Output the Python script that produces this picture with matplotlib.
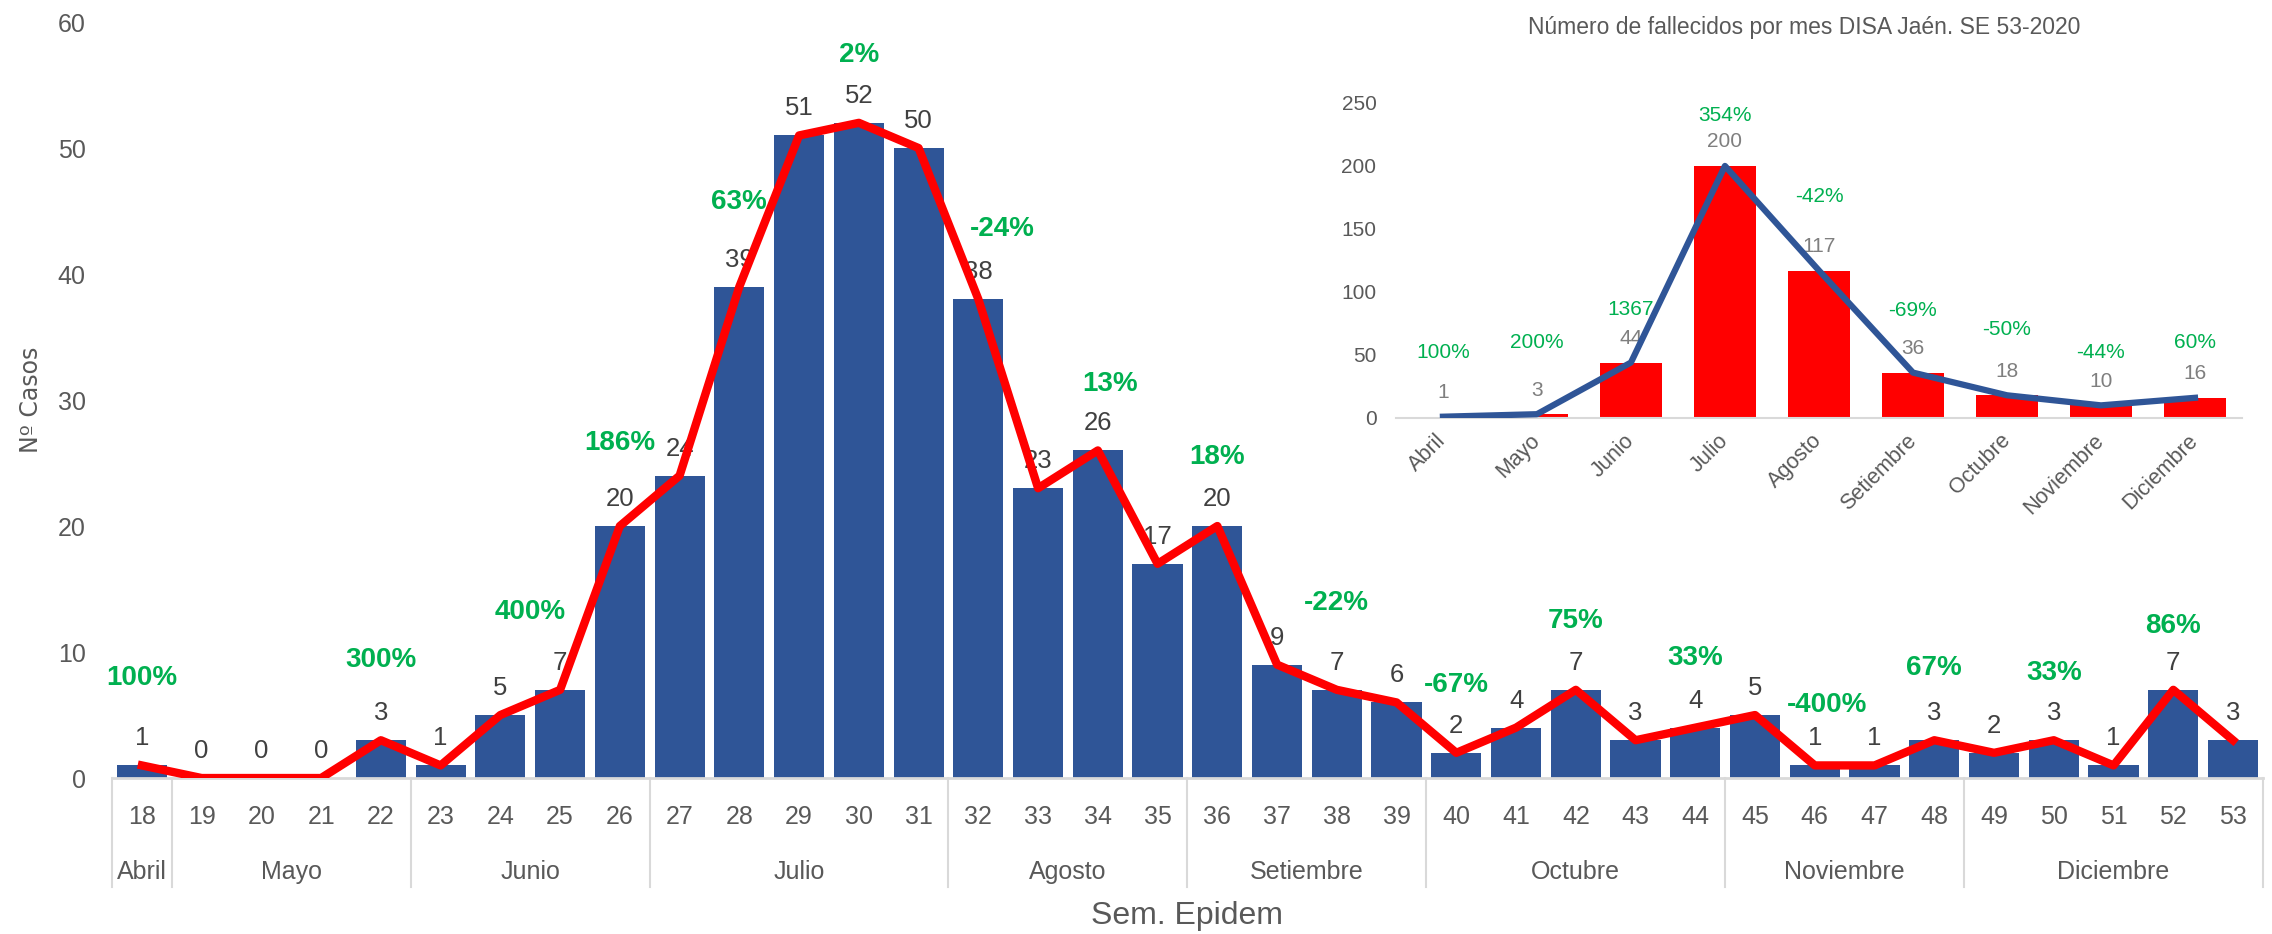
import matplotlib
matplotlib.use("Agg")
import matplotlib.pyplot as plt

plt.rcParams['font.family'] = ['Liberation Sans', 'DejaVu Sans']

# semanas epidemiologicas y casos
semanas = [18, 19, 20, 21, 22, 23, 24, 25, 26, 27, 28, 29, 30, 31, 32, 33, 34, 35,
           36, 37, 38, 39, 40, 41, 42, 43, 44, 45, 46, 47, 48, 49, 50, 51, 52, 53]
casos = [1, 0, 0, 0, 3, 1, 5, 7, 20, 24, 39, 51, 52, 50, 38, 23, 26, 17,
         20, 9, 7, 6, 2, 4, 7, 3, 4, 5, 1, 1, 3, 2, 3, 1, 7, 3]

meses = ['Abril', 'Mayo', 'Junio', 'Julio', 'Agosto', 'Setiembre', 'Octubre',
         'Noviembre', 'Diciembre']
semanas_por_mes = [1, 4, 4, 5, 4, 4, 5, 4, 5]

# variaciones (texto verde): posicion en indice de semana, altura, texto
var_pos = [0, 4, 6.5, 8, 10, 12, 14.4, 16.2, 18, 20, 22, 24, 26, 28.2, 30, 32, 34]
var_y = [7.9, 9.4, 13.2, 26.6, 45.7, 57.4, 43.6, 31.3, 25.5, 13.9, 7.4, 12.5, 9.5,
         5.8, 8.7, 8.3, 12.1]
var_txt = ['100%', '300%', '400%', '186%', '63%', '2%', '-24%', '13%', '18%', '-22%',
           '-67%', '75%', '33%', '-400%', '67%', '33%', '86%']

# fallecidos por mes (grafico pequeño)
fallecidos = [1, 3, 44, 200, 117, 36, 18, 10, 16]
fal_var_y = [52, 60, 86, 240, 176, 85, 70, 52, 60]
fal_var_txt = ['100%', '200%', '1367', '354%', '-42%', '-69%', '-50%', '-44%', '60%']

AZUL = '#2F5597'
ROJO = '#FF0000'
VERDE = '#00B050'
GRIS = '#595959'

fig = plt.figure(figsize=(22.72, 9.34), dpi=100)
ax = fig.add_axes([0.0493, 0.167, 0.9467, 0.8094])

x = list(range(len(semanas)))
ax.bar(x, casos, width=0.84, color=AZUL, zorder=2)
ax.plot(x, casos, color=ROJO, lw=6, zorder=4)
for i, v in zip(x, casos):
    ax.annotate(str(v), (i, v), xytext=(0, 27), textcoords='offset pixels',
                ha='center', va='center', fontsize=18.5, color='#404040', zorder=3)
for p, yv, t in zip(var_pos, var_y, var_txt):
    ax.text(p, yv, t, ha='center', va='center', fontsize=20, color=VERDE,
            fontweight='bold', zorder=5)

ax.set_xlim(-0.5, len(semanas) - 0.5)
ax.set_ylim(0, 60)
ax.set_yticks(range(0, 61, 10))
ax.tick_params(axis='y', length=0, pad=19, labelsize=18, labelcolor=GRIS)
ax.set_xticks([])
for s in ['top', 'right', 'left']:
    ax.spines[s].set_visible(False)
ax.spines['bottom'].set_color('#D9D9D9')
ax.spines['bottom'].set_linewidth(2)

# etiquetas de semana y de mes
for i, s in zip(x, semanas):
    ax.annotate(str(s), (i, 0), xycoords=('data', 'axes fraction'), xytext=(0, -39),
                textcoords='offset pixels', ha='center', va='center', fontsize=18,
                color=GRIS)
ini = -0.5
bordes = [ini]
for m, n in zip(meses, semanas_por_mes):
    ax.annotate(m, (ini + n / 2, 0), xycoords=('data', 'axes fraction'),
                xytext=(0, -94), textcoords='offset pixels', ha='center', va='center',
                fontsize=18, color=GRIS)
    ini += n
    bordes.append(ini)
for b in bordes:
    ax.plot([b, b], [0, -0.144], transform=ax.get_xaxis_transform(), color='#D9D9D9',
            lw=1.5, clip_on=False)

fig.text(0.5226, 0.019, 'Sem. Epidem', ha='center', va='center', fontsize=23, color=GRIS)
fig.text(0.0135, 0.572, 'Nº Casos', rotation=90, ha='center', va='center', fontsize=17,
         color=GRIS, family='DejaVu Sans')

# grafico pequeño
ax2 = fig.add_axes([0.6144, 0.5525, 0.3724, 0.3373])
ax2.set_facecolor('none')
xm = list(range(len(meses)))
ax2.bar(xm, fallecidos, width=0.66, color=ROJO, zorder=2)
ax2.plot(xm, fallecidos, color=AZUL, lw=4.5, zorder=4)
for i, v in zip(xm, fallecidos):
    ax2.annotate(str(v), (i, v), xytext=(0, 24), textcoords='offset pixels',
                 ha='center', va='center', fontsize=15, color='#7F7F7F', zorder=3)
for i, yv, t in zip(xm, fal_var_y, fal_var_txt):
    ax2.text(i, yv, t, ha='center', va='center', fontsize=15, color=VERDE, zorder=3)
ax2.set_xlim(-0.5, len(meses) - 0.5)
ax2.set_ylim(0, 250)
ax2.set_yticks(range(0, 251, 50))
ax2.tick_params(axis='y', length=0, pad=14, labelsize=15, labelcolor=GRIS)
ax2.set_xticks(xm)
ax2.set_xticklabels(meses, rotation=45, ha='right', va='center', rotation_mode='anchor',
                    fontsize=15.5, color=GRIS)
ax2.tick_params(axis='x', length=0, pad=14)
for s in ['top', 'right', 'left']:
    ax2.spines[s].set_visible(False)
ax2.spines['bottom'].set_color('#D9D9D9')
ax2.spines['bottom'].set_linewidth(1.5)
fig.text(0.7940, 0.971, 'Número de fallecidos por mes DISA Jaén. SE 53-2020',
         ha='center', va='center', fontsize=16.5, color=GRIS)

fig.savefig('out.png', dpi=100)
